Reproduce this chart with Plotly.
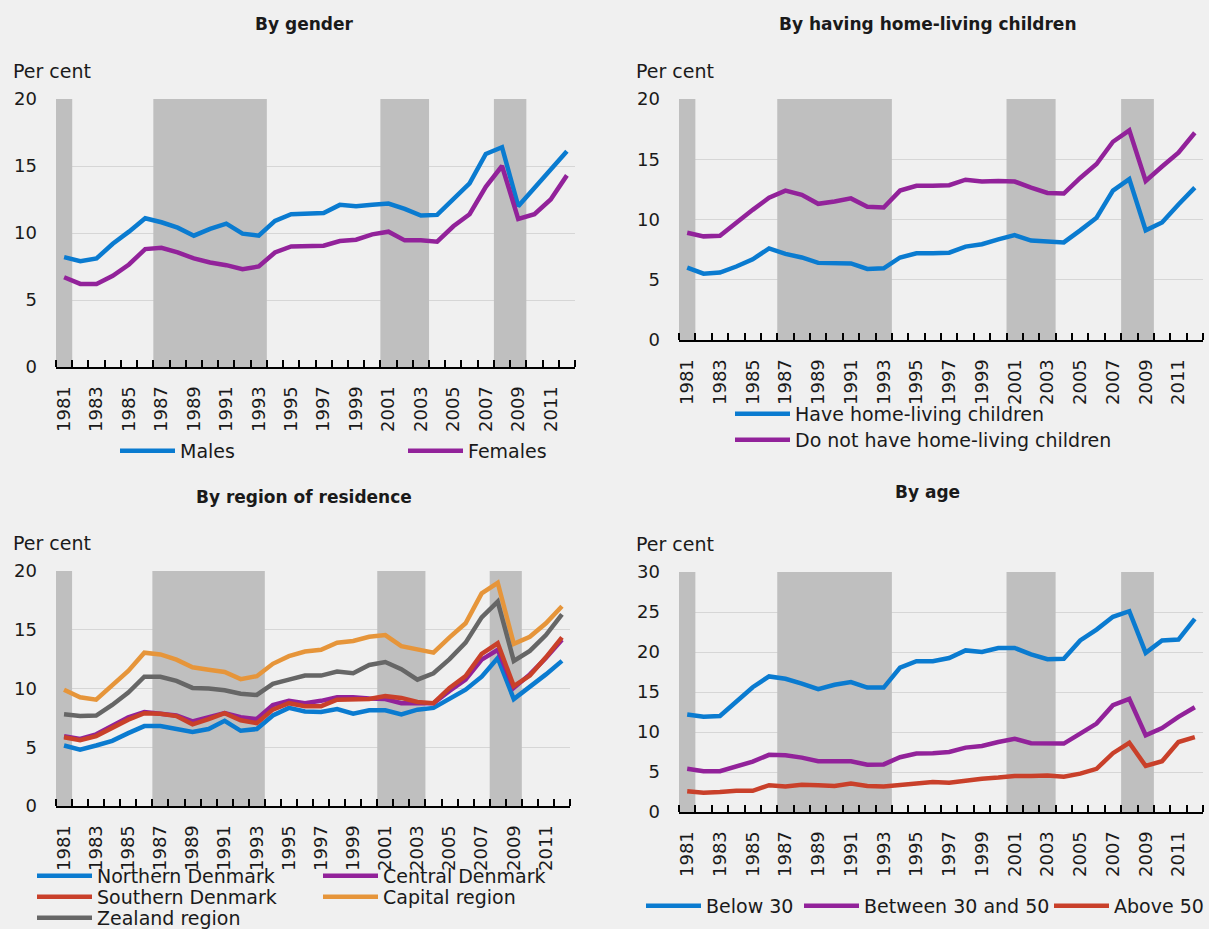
import plotly.graph_objects as go

# ── Data ────────────────────────────────────────────────────────
years = list(range(1981, 2013))
recessions = [(1981, 1981), (1987, 1993), (2001, 2003), (2008, 2009)]

males = [8.2, 7.9, 8.1, 9.2, 10.1, 11.1, 10.8, 10.4, 9.8, 10.3, 10.7, 9.95, 9.8, 10.9, 11.4, 11.45,
         11.5, 12.1, 12.0, 12.1, 12.2, 11.8, 11.3, 11.35, 12.5, 13.7, 15.9, 16.4, 12.0, 13.4, 14.8, 16.1]
females = [6.7, 6.2, 6.2, 6.8, 7.65, 8.8, 8.9, 8.55, 8.1, 7.8, 7.6, 7.3, 7.5, 8.55, 9.0, 9.0,
           9.05, 9.4, 9.5, 9.9, 10.1, 9.45, 9.45, 9.35, 10.5, 11.4, 13.45, 15.0, 11.05, 11.4, 12.5, 14.3]

have_kids = [6.0, 5.5, 5.6, 6.1, 6.7, 7.6, 7.15, 6.85, 6.4, 6.35, 6.35, 5.9, 5.95, 6.85, 7.2, 7.2,
             7.25, 7.75, 7.95, 8.35, 8.7, 8.25, 8.15, 8.1, 9.1, 10.15, 12.4, 13.35, 9.1, 9.75, 11.25, 12.65]
no_kids = [8.9, 8.6, 8.65, 9.75, 10.8, 11.8, 12.4, 12.05, 11.3, 11.5, 11.75, 11.05, 11.0, 12.4, 12.8, 12.8,
           12.85, 13.3, 13.15, 13.2, 13.15, 12.65, 12.2, 12.15, 13.45, 14.6, 16.45, 17.4, 13.2, 14.4, 15.55, 17.2]

northern = [5.15, 4.8, 5.15, 5.55, 6.2, 6.8, 6.8, 6.55, 6.3, 6.55, 7.25, 6.4, 6.55, 7.7, 8.35, 8.05,
            8.0, 8.25, 7.85, 8.15, 8.15, 7.8, 8.2, 8.35, 9.1, 9.9, 11.0, 12.6, 9.1, 10.1, 11.2, 12.35]
central = [5.95, 5.7, 6.1, 6.85, 7.55, 8.0, 7.85, 7.7, 7.2, 7.55, 7.9, 7.55, 7.4, 8.6, 8.95, 8.75,
           8.95, 9.25, 9.25, 9.15, 9.1, 8.75, 8.75, 8.75, 9.8, 10.75, 12.45, 13.3, 10.05, 11.2, 12.6, 14.15]
southern = [5.85, 5.6, 5.95, 6.7, 7.35, 7.9, 7.85, 7.65, 6.95, 7.4, 7.9, 7.3, 7.05, 8.2, 8.75, 8.5,
            8.5, 9.05, 9.05, 9.1, 9.35, 9.2, 8.85, 8.75, 10.05, 11.05, 12.95, 13.85, 10.2, 11.1, 12.65, 14.35]
capital = [9.9, 9.25, 9.05, 10.3, 11.5, 13.05, 12.9, 12.45, 11.8, 11.6, 11.4, 10.8, 11.05, 12.1, 12.75, 13.15,
           13.3, 13.9, 14.05, 14.4, 14.55, 13.6, 13.3, 13.05, 14.35, 15.55, 18.1, 19.0, 13.8, 14.4, 15.55, 17.0]
zealand = [7.8, 7.65, 7.7, 8.6, 9.65, 11.0, 11.0, 10.65, 10.05, 10.0, 9.85, 9.55, 9.45, 10.4, 10.75, 11.1,
           11.1, 11.45, 11.3, 12.0, 12.25, 11.65, 10.75, 11.3, 12.5, 13.9, 16.05, 17.4, 12.35, 13.2, 14.55, 16.3]

below30 = [12.2, 11.9, 12.0, 13.85, 15.6, 16.95, 16.65, 16.05, 15.35, 15.9, 16.25, 15.55, 15.55, 18.05, 18.85, 18.85,
           19.25, 20.2, 20.0, 20.5, 20.5, 19.7, 19.1, 19.15, 21.45, 22.8, 24.4, 25.1, 19.9, 21.45, 21.55, 24.15]
between30_50 = [5.4, 5.1, 5.1, 5.7, 6.3, 7.15, 7.1, 6.8, 6.35, 6.35, 6.35, 5.9, 5.95, 6.85, 7.3, 7.35,
                7.5, 8.05, 8.25, 8.75, 9.15, 8.6, 8.55, 8.55, 9.8, 11.05, 13.35, 14.15, 9.6, 10.5, 11.9, 13.1]
above50 = [2.6, 2.4, 2.5, 2.65, 2.65, 3.35, 3.2, 3.4, 3.35, 3.25, 3.55, 3.25, 3.2, 3.4, 3.55, 3.75,
           3.65, 3.95, 4.15, 4.3, 4.5, 4.5, 4.55, 4.4, 4.8, 5.4, 7.35, 8.65, 5.75, 6.35, 8.75, 9.35]

BLUE, PURPLE, RED, ORANGE, GREY = "#0a7bd0", "#92229a", "#c9402a", "#e6953a", "#666666"
BG, SHADE, INK = "#f0f0f0", "#bfbfbf", "#1a1a1a"
FONT = "DejaVu Sans"
W, H = 1209, 929

# (x-axis, y-axis, x px span, y px span, y max, title, title centre px)
panels = [
    ("x", "y", (56, 575), (99, 367), 20, "By gender", (304, 24)),
    ("x2", "y2", (679, 1203), (99, 340), 20, "By having home-living children", (927, 24)),
    ("x3", "y3", (56, 570), (571, 806), 20, "By region of residence", (304, 497)),
    ("x4", "y4", (679, 1203), (572, 812), 30, "By age", (927, 492)),
]

series = [
    (0, "Males", males, BLUE, "legend"),
    (0, "Females", females, PURPLE, "legend"),
    (1, "Have home-living children", have_kids, BLUE, "legend2"),
    (1, "Do not have home-living children", no_kids, PURPLE, "legend3"),
    (2, "Northern Denmark", northern, BLUE, "legend4"),
    (2, "Central Denmark", central, PURPLE, "legend4"),
    (2, "Southern Denmark", southern, RED, "legend5"),
    (2, "Capital region", capital, ORANGE, "legend5"),
    (2, "Zealand region", zealand, GREY, "legend6"),
    (3, "Below 30", below30, BLUE, "legend7"),
    (3, "Between 30 and 50", between30_50, PURPLE, "legend8"),
    (3, "Above 50", above50, RED, "legend9"),
]

fig = go.Figure()

# recession shading first, so the lines sit on top
for xa, ya, _, _, ymax, _, _ in panels:
    for r0, r1 in recessions:
        fig.add_trace(go.Scatter(
            x=[r0 - 0.5, r0 - 0.5, r1 + 0.5, r1 + 0.5], y=[0, ymax, ymax, 0],
            xaxis=xa, yaxis=ya, mode="lines", fill="toself", fillcolor=SHADE,
            line=dict(width=0, color=SHADE), showlegend=False, hoverinfo="skip"))

for p, name, vals, col, leg in series:
    xa, ya = panels[p][0], panels[p][1]
    fig.add_trace(go.Scatter(x=years, y=vals, name=name, mode="lines", xaxis=xa, yaxis=ya,
                             line=dict(color=col, width=4.5), legend=leg))

layout = {}
for xa, ya, (x0, x1), (y0, y1), ymax, title, (tx, ty) in panels:
    layout["xaxis" + xa[1:]] = dict(
        domain=[x0 / W, x1 / W], anchor=ya, range=[years[0] - 0.5, years[-1] + 0.5],
        tickmode="array", tickvals=years[::2], ticks="", tickangle=-90,
        showgrid=False, zeroline=False, showline=True, linecolor="black", linewidth=2,
        ticklabelstandoff=10, tickfont=dict(size=18, color=INK), automargin=False,
        minor=dict(tickmode="linear", tick0=years[0] - 0.5, dtick=1, ticks="inside",
                   ticklen=7, tickwidth=1.5, tickcolor="black", showgrid=False),
    )
    layout["yaxis" + ya[1:]] = dict(
        domain=[1 - y1 / H, 1 - y0 / H], anchor=xa, range=[0, ymax], dtick=5,
        showgrid=True, gridcolor="#d6d6d6", gridwidth=1, zeroline=False, showline=False,
        ticks="", ticklabelstandoff=18, tickfont=dict(size=18, color=INK), automargin=False,
    )
    fig.add_annotation(text="<b>" + title + "</b>", x=tx / W, y=1 - ty / H, xref="paper", yref="paper",
                       showarrow=False, xanchor="center", yanchor="middle",
                       font=dict(size=17, color=INK))
    fig.add_annotation(text="Per cent", x=(x0 - 45) / W, y=1 - (y0 - 28) / H, xref="paper", yref="paper",
                       showarrow=False, xanchor="left", yanchor="middle",
                       font=dict(size=19, color=INK))


def leg(x, y, xanchor="left", **kw):
    return dict(orientation="h", x=x / W, y=1 - y / H, xanchor=xanchor, yanchor="middle",
                bgcolor="rgba(0,0,0,0)", borderwidth=0, itemwidth=55,
                font=dict(size=19, color=INK), **kw)


fig.update_layout(
    template="none",
    width=W, height=H, paper_bgcolor=BG, plot_bgcolor=BG,
    margin=dict(l=0, r=0, t=0, b=0, autoexpand=False),
    font=dict(family=FONT, color=INK),
    legend=leg(115, 451, entrywidth=218, entrywidthmode="pixels"),
    legend2=leg(730, 414),
    legend3=leg(730, 440),
    legend4=leg(32, 876, entrywidth=216, entrywidthmode="pixels"),
    legend5=leg(32, 897, entrywidth=216, entrywidthmode="pixels"),
    legend6=leg(32, 918),
    legend7=leg(641, 906),
    legend8=leg(799, 906),
    legend9=leg(W, 906, xanchor="right"),
    **layout,
)

fig.write_html("out.html", config={"displayModeBar": False},
               post_script="document.body.style.margin='0';")
